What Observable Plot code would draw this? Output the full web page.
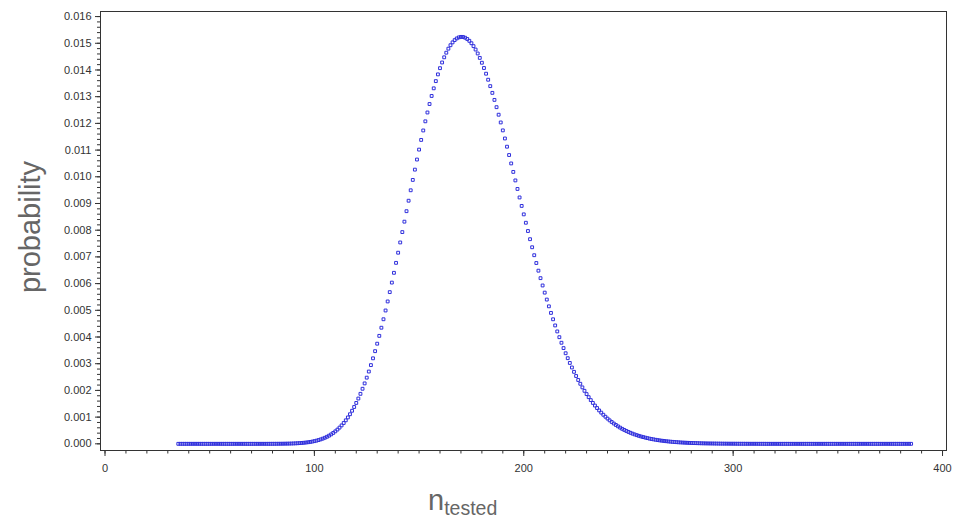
<!DOCTYPE html>
<html>
<head>
<meta charset="utf-8">
<script src="https://cdn.jsdelivr.net/npm/d3@7"></script>
<script src="https://cdn.jsdelivr.net/npm/@observablehq/plot@0.6"></script>
<style>
  body { margin: 0; background: #fff; }
  #chart { width: 953px; height: 520px; }
</style>
</head>
<body>
<div id="chart"></div>
<script>
// x values: number tested, 35 .. 385
const nTested = d3.range(35, 386);

// probability for each n (35 .. 385)
const probability = [
  // 35-74
  0,0,0,0,0,0,0,0,0,0, 0,0,0,0,0,0,0,0,0,0, 0,0,0,0,0,0,0,0,0,0, 0,0,0,0,0,0,0,0,0,0,
  // 75-84
  0.0000003,0.0000004,0.0000005,0.0000007,0.0000009,0.0000012,0.0000016,0.0000021,0.0000027,0.0000034,
  // 85-99
  0.0000044,0.0000056,0.0000071,0.0000090,0.0000113,0.0000142,0.0000176,0.0000218,0.0000268,0.0000328,
  0.0000400,0.0000485,0.0000585,0.0000704,0.0000842,
  // 100-119
  0.000100,0.000119,0.000141,0.000166,0.000194,0.000227,0.000264,0.000306,0.000354,0.000407,
  0.000467,0.000533,0.000607,0.000690,0.000780,0.000880,0.000989,0.001108,0.001238,0.001379,
  // 120-139
  0.001531,0.001696,0.001872,0.002062,0.002263,0.002478,0.002707,0.002948,0.003202,0.003470,
  0.003750,0.004043,0.004348,0.004665,0.004993,0.005332,0.005681,0.006038,0.006404,0.006777,
  // 140-159
  0.007157,0.007541,0.007929,0.008320,0.008712,0.009104,0.009495,0.009883,0.010268,0.010646,
  0.011018,0.011381,0.011735,0.012077,0.012408,0.012725,0.013027,0.013313,0.013583,0.013835,
  // 160-179
  0.014068,0.014281,0.014474,0.014647,0.014798,0.014927,0.015034,0.015119,0.015181,0.015221,
  0.015239,0.015235,0.015208,0.015161,0.015092,0.015002,0.014893,0.014765,0.014618,0.014453,
  // 180-199
  0.014271,0.014074,0.013861,0.013635,0.013395,0.013143,0.012880,0.012607,0.012325,0.012035,
  0.011738,0.011435,0.011127,0.010815,0.010500,0.010183,0.009864,0.009545,0.009226,0.008909,
  // 200-219
  0.008593,0.008279,0.007969,0.007663,0.007361,0.007063,0.006771,0.006484,0.006204,0.005930,
  0.005662,0.005402,0.005149,0.004903,0.004664,0.004433,0.004209,0.003993,0.003785,0.003585,
  // 220-239
  0.003392,0.003207,0.003029,0.002859,0.002696,0.002540,0.002391,0.002249,0.002114,0.001985,
  0.001863,0.001747,0.001637,0.001532,0.001433,0.001340,0.001251,0.001168,0.001089,0.001015,
  // 240-259
  0.000945,0.000879,0.000818,0.000760,0.000706,0.000655,0.000607,0.000562,0.000521,0.000482,
  0.000446,0.000412,0.000380,0.000351,0.000324,0.000298,0.000275,0.000253,0.000233,0.000214,
  // 260-279
  0.000196,0.000180,0.000166,0.000152,0.000139,0.000127,0.000117,0.000107,0.0000976,0.0000891,
  0.0000814,0.0000743,0.0000678,0.0000618,0.0000563,0.0000513,0.0000467,0.0000424,0.0000386,0.0000351,
  // 280-299
  0.0000318,0.0000289,0.0000262,0.0000238,0.0000215,0.0000195,0.0000177,0.0000160,0.0000145,0.0000131,
  0.0000118,0.0000107,0.0000096,0.0000087,0.0000078,0.0000070,0.0000063,0.0000057,0.0000051,0.0000046,
  // 300-315
  0.0000042,0.0000037,0.0000034,0.0000030,0.0000027,0.0000024,0.0000021,0.0000019,0.0000017,0.0000015,
  0.0000013,0.0000012,0.0000011,0.0000010,0.0000009,0.0000008,
  // 316-385
  0,0,0,0,0,0,0,0,0,0, 0,0,0,0,0,0,0,0,0,0, 0,0,0,0,0,0,0,0,0,0, 0,0,0,0,0,0,0,0,0,0,
  0,0,0,0,0,0,0,0,0,0, 0,0,0,0,0,0,0,0,0,0, 0,0,0,0,0,0,0,0,0,0
];

// axis ticks
const xMajorTicks = [0, 100, 200, 300, 400];
const xMinorTicks = d3.range(0, 41).map(i => i * 10);
const yMajorTicks = [0, 0.001, 0.002, 0.003, 0.004, 0.005, 0.006, 0.007, 0.008,
                     0.009, 0.010, 0.011, 0.012, 0.013, 0.014, 0.015, 0.016];
const yMinorTicks = d3.range(0, 81).map(i => +(i * 0.0002).toFixed(4));

const yTitle = "probability";
const xTitleMain = "n";
const xTitleSub = "tested";

const data = nTested.map((n, i) => ({n, p: probability[i]}));

const chart = Plot.plot({
  width: 953,
  height: 520,
  marginLeft: 100,
  marginRight: 7,
  marginTop: 11,
  marginBottom: 70,
  style: {
    fontFamily: "'Liberation Sans', Arial, sans-serif",
    fontSize: "11px",
    color: "#333",
    background: "#fff",
    overflow: "visible"
  },
  x: {domain: [-2.15, 401.9]},
  y: {domain: [-0.00025, 0.01619]},
  marks: [
    Plot.axisX({ticks: xMinorTicks, tickSize: 3.5, tickFormat: () => "", label: null, stroke: "#333"}),
    Plot.axisX({ticks: xMajorTicks, tickSize: 6, tickPadding: 8, tickFormat: d3.format("d"), label: null, stroke: "#333", fill: "#333"}),
    Plot.axisY({ticks: yMinorTicks, tickSize: 3, tickFormat: () => "", label: null, stroke: "#333"}),
    Plot.axisY({ticks: yMajorTicks, tickSize: 5, tickPadding: 4, tickFormat: d3.format(".3f"), label: null, stroke: "#333", fill: "#333"}),
    Plot.frame({stroke: "#333", strokeWidth: 1}),
    Plot.dot(data, {x: "n", y: "p", symbol: "square", r: 1.6, stroke: "#2f2fdc", strokeWidth: 1, fill: "none"})
  ]
});

const svg = d3.select(chart);
svg.append("text")
  .attr("transform", "translate(40,227) rotate(-90)")
  .attr("text-anchor", "middle")
  .attr("font-family", "'Liberation Sans', Arial, sans-serif")
  .attr("font-size", 29)
  .attr("fill", "#666")
  .text(yTitle);

const xt = svg.append("text")
  .attr("x", 428)
  .attr("y", 510)
  .attr("text-anchor", "start")
  .attr("font-family", "'Liberation Sans', Arial, sans-serif")
  .attr("font-size", 29)
  .attr("fill", "#666");
xt.append("tspan").text(xTitleMain);
xt.append("tspan").attr("font-size", 19.5).attr("dy", 5).text(xTitleSub);

document.getElementById("chart").appendChild(chart);
</script>
</body>
</html>
